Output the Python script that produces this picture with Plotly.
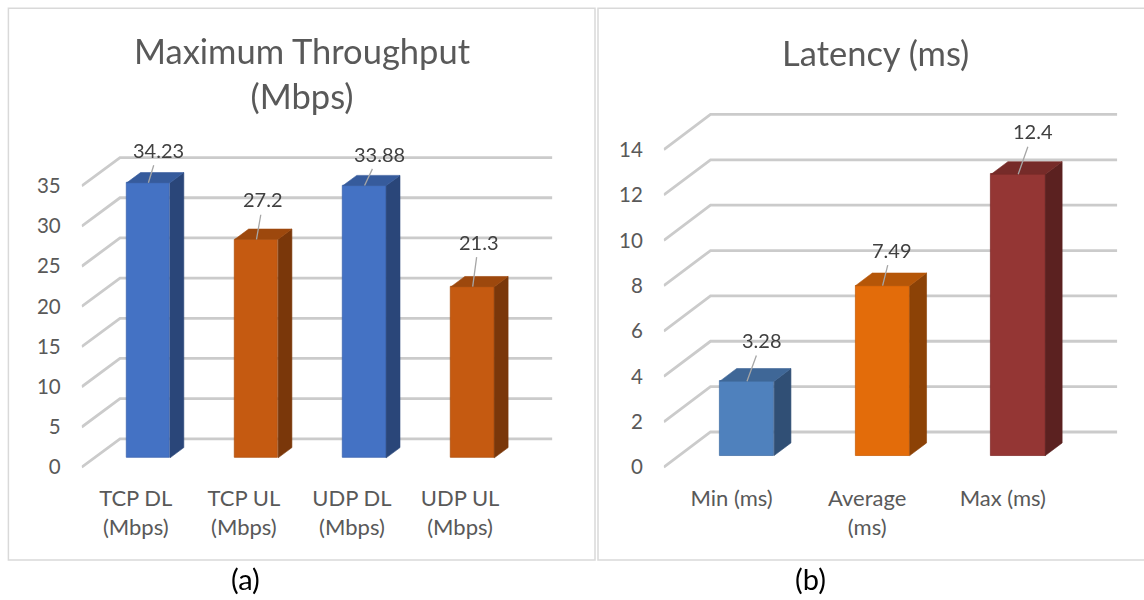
import plotly.graph_objects as go

W, H = 1144, 600

# ---------------- data ----------------
tput_labels = [["TCP DL", "(Mbps)"], ["TCP UL", "(Mbps)"], ["UDP DL", "(Mbps)"], ["UDP UL", "(Mbps)"]]
tput_values = [34.23, 27.2, 33.88, 21.3]
tput_ticks = [0, 5, 10, 15, 20, 25, 30, 35]

lat_labels = [["Min (ms)"], ["Average", "(ms)"], ["Max (ms)"]]
lat_values = [3.28, 7.49, 12.4]
lat_ticks = [0, 2, 4, 6, 8, 10, 12, 14]

# ---------------- styling ----------------
tput_colors = ["#4472C4", "#C55A11", "#4472C4", "#C55A11"]
lat_colors = ["#4F81BD", "#E36C0A", "#943634"]

# data-label nudges (pixels from the top-front edge of each column)
tput_label_shift = [(10, -33), (7, -40), (15, -32), (6, -45)]
lat_label_shift = [(15, -41), (9, -36), (15, -43)]

FONT = "Lato, 'Open Sans', sans-serif"
GRID = "#cbcbcb"
AXIS_TEXT = "#595959"

# oblique-projection geometry of each panel (pixels)
tput_geo = dict(x0=81.7, v0=472.7, cat_px=108.1, unit_px=8.13,
                dx_px=38.3, dy_px=28.7, pad=0.5, ytop=42.0,
                front=0.33, depth=0.36, bw=0.4)
lat_geo = dict(x0=663.8, v0=472.7, cat_px=135.6, unit_px=22.95,
               dx_px=46.7, dy_px=35.6, pad=0.18, ytop=16.5,
               front=0.33, depth=0.36, bw=0.4)

LINE1_STANDOFF = 12   # first line of category labels
LINE_GAP = 29         # distance between wrapped label lines


def shade(hex_color, f):
    h = hex_color.lstrip("#")
    r, g, b = (int(h[i:i + 2], 16) for i in (0, 2, 4))
    return "#{:02x}{:02x}{:02x}".format(int(r * f), int(g * f), int(b * f))


fig = go.Figure()
layout_axes = {}


def add_panel(idx, labels, values, ticks, colors, shifts, geo):
    xa, ya = f"x{idx}", f"y{idx}"
    xa2 = f"x{idx + 2}"   # overlay axis carrying the second label line
    n = len(values)
    cat, unit = geo["cat_px"], geo["unit_px"]
    dxc = geo["dx_px"] / cat      # full depth shift, category units
    dyv = geo["dy_px"] / unit     # full depth shift, value units

    # axes sized so one category = cat px and one unit = unit px
    x_right_px = geo["x0"] + n * cat + geo["dx_px"]
    y_bot_px = geo["v0"] + geo["pad"] * unit
    y_top_px = geo["v0"] - geo["ytop"] * unit
    xdom = [geo["x0"] / W, x_right_px / W]
    xrng = [-0.5, n - 0.5 + dxc]
    common_x = dict(domain=xdom, range=xrng, tickvals=list(range(n)),
                    ticks="", showgrid=False, zeroline=False, showline=False,
                    tickfont=dict(family=FONT, size=22, color=AXIS_TEXT),
                    anchor=ya, fixedrange=True)
    layout_axes[f"xaxis{idx}"] = dict(
        common_x, ticktext=[lab[0] for lab in labels],
        ticklabelstandoff=LINE1_STANDOFF)
    layout_axes[f"xaxis{idx + 2}"] = dict(
        common_x, ticktext=[lab[1] if len(lab) > 1 else "" for lab in labels],
        ticklabelstandoff=LINE1_STANDOFF + LINE_GAP, overlaying=xa, side="bottom")
    layout_axes[f"yaxis{idx}"] = dict(
        domain=[1 - y_bot_px / H, 1 - y_top_px / H],
        range=[-geo["pad"], geo["ytop"]],
        tickvals=ticks, ticktext=[str(t) for t in ticks],
        ticks="", showgrid=False, zeroline=False, showline=False,
        tickfont=dict(family=FONT, size=20.5, color=AXIS_TEXT),
        ticklabelstandoff=20, anchor=xa, fixedrange=True,
    )

    # gridlines: side wall diagonal + back wall horizontal
    for v in ticks:
        path = (f"M {-0.5},{v} L {-0.5 + dxc},{v + dyv} "
                f"L {n - 0.5 + dxc},{v + dyv}")
        fig.add_shape(type="path", path=path, xref=xa, yref=ya,
                      line=dict(color=GRID, width=2.8), layer="below")

    t1, d, bw = geo["front"], geo["depth"], geo["bw"]
    xs = [i + t1 * dxc for i in range(n)]
    base = t1 * dyv

    # front faces of the columns
    fig.add_trace(go.Bar(
        x=xs, y=values, base=base, width=bw,
        marker=dict(color=colors, line=dict(width=0.8, color=[shade(c, 0.9) for c in colors])),
        xaxis=xa, yaxis=ya, showlegend=False, hoverinfo="skip",
    ))
    # invisible companion so the overlay axis is drawn
    fig.add_trace(go.Scatter(x=xs, y=values, mode="markers", opacity=0,
                             xaxis=xa2, yaxis=ya, showlegend=False, hoverinfo="skip"))

    ox, oy = d * dxc, d * dyv
    for i, v in enumerate(values):
        xl, xr = xs[i] - bw / 2, xs[i] + bw / 2
        top = base + v
        # right side face
        fig.add_trace(go.Scatter(
            x=[xr, xr + ox, xr + ox, xr, xr],
            y=[base, base + oy, top + oy, top, base],
            mode="lines", fill="toself", fillcolor=shade(colors[i], 0.62),
            line=dict(width=0.6, color=shade(colors[i], 0.62)),
            xaxis=xa, yaxis=ya, showlegend=False, hoverinfo="skip",
        ))
        # top face
        fig.add_trace(go.Scatter(
            x=[xl, xr, xr + ox, xl + ox, xl],
            y=[top, top, top + oy, top + oy, top],
            mode="lines", fill="toself", fillcolor=shade(colors[i], 0.8),
            line=dict(width=0.6, color=shade(colors[i], 0.8)),
            xaxis=xa, yaxis=ya, showlegend=False, hoverinfo="skip",
        ))
        # value label with leader line
        fig.add_annotation(
            x=xs[i], y=top, xref=xa, yref=ya, text=f"{v:g}",
            showarrow=True, arrowhead=0, arrowwidth=1.3, arrowcolor="#a6a6a6",
            ax=shifts[i][0], ay=shifts[i][1], standoff=0, startstandoff=2,
            font=dict(family=FONT, size=20, color="#404040"),
        )


add_panel(1, tput_labels, tput_values, tput_ticks, tput_colors, tput_label_shift, tput_geo)
add_panel(2, lat_labels, lat_values, lat_ticks, lat_colors, lat_label_shift, lat_geo)

# chart frames
fig.add_shape(type="rect", xref="paper", yref="paper",
              x0=8.4 / W, x1=595 / W, y0=1 - 566.7 / H, y1=1 - 8.4 / H,
              line=dict(color="#d9d9d9", width=1.5), layer="below")
fig.add_shape(type="rect", xref="paper", yref="paper",
              x0=598 / W, x1=1152 / W, y0=1 - 566.7 / H, y1=1 - 8.4 / H,
              line=dict(color="#d9d9d9", width=1.5), layer="below")


def paper_text(x_px, y_px, text, size, color):
    fig.add_annotation(x=x_px / W, y=1 - y_px / H, xref="paper", yref="paper",
                       xanchor="center", yanchor="middle", text=text,
                       showarrow=False, font=dict(family=FONT, size=size, color=color))


# chart titles
paper_text(302, 74, "Maximum Throughput<br>(Mbps)", 34.5, AXIS_TEXT)
paper_text(875, 53, "Latency (ms)", 34.5, AXIS_TEXT)

# sub-figure captions
paper_text(245, 585, "(a)", 29, "#000000")
paper_text(810, 585, "(b)", 29, "#000000")

fig.update_layout(
    width=W, height=H, margin=dict(l=0, r=0, t=0, b=0),
    paper_bgcolor="white", plot_bgcolor="rgba(0,0,0,0)",
    showlegend=False, bargap=0, **layout_axes,
)

fig.write_html("out.html", config={"displayModeBar": False})
